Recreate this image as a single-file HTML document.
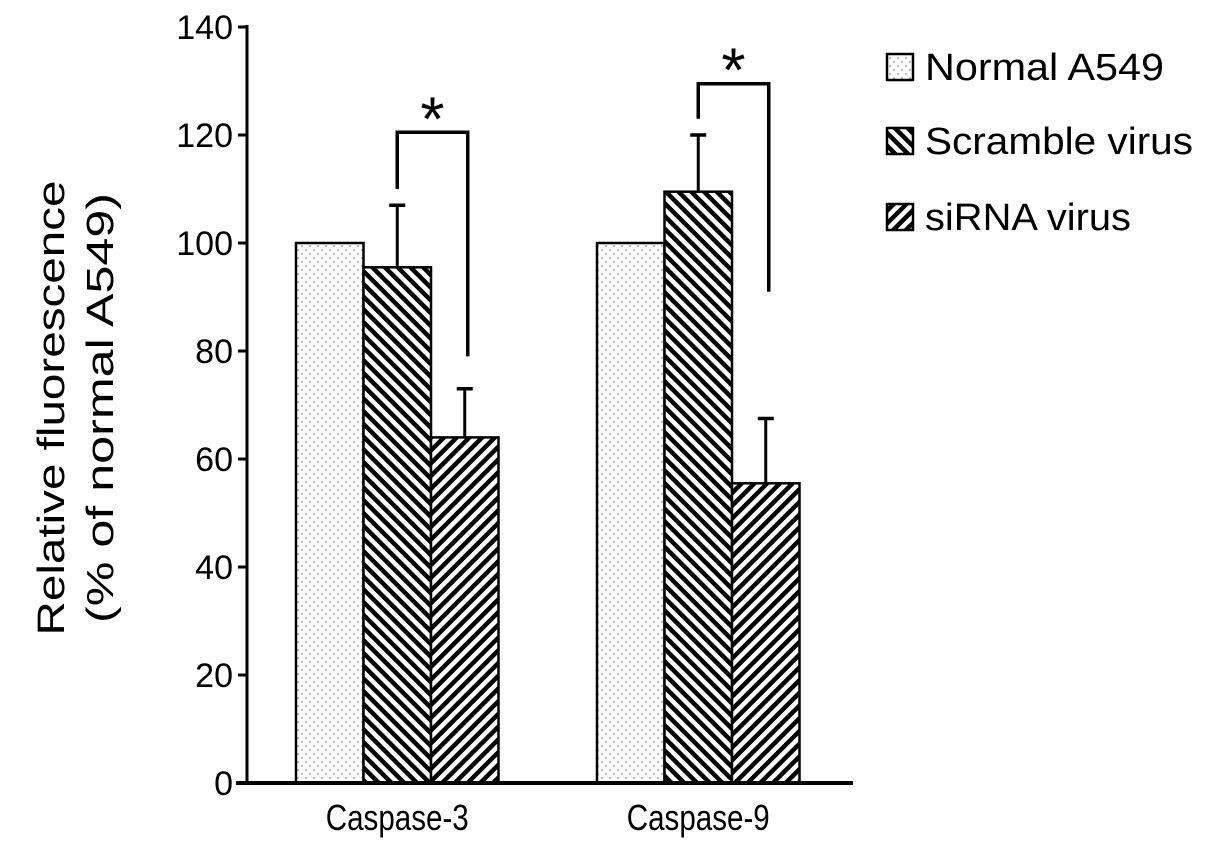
<!DOCTYPE html>
<html><head><meta charset="utf-8"><style>
html,body{margin:0;padding:0;background:#fff;}
svg{display:block;font-family:"Liberation Sans",sans-serif;}
</style></head><body>
<svg id="chart" width="1205" height="849" viewBox="0 0 1205 849">
<defs>
<pattern id="dots" width="8" height="8" patternUnits="userSpaceOnUse"><rect width="8" height="8" fill="#fff"/><circle cx="2" cy="2" r="1" fill="#aaa"/><circle cx="6" cy="6" r="1" fill="#aaa"/></pattern>
<pattern id="back" width="9" height="9" patternUnits="userSpaceOnUse" patternTransform="rotate(-45)"><rect width="9" height="9" fill="#fff"/><rect x="0" y="0" width="4.5" height="9" fill="#000"/></pattern>
<pattern id="fwd" width="9" height="9" patternUnits="userSpaceOnUse" patternTransform="rotate(45)"><rect width="9" height="9" fill="#fff"/><rect x="0" y="0" width="4.5" height="9" fill="#000"/></pattern>
</defs>
<g id="plot"></g>
<g>
<text x="0" y="0" transform="translate(64,408) rotate(-90)" text-anchor="middle" font-size="38" textLength="455" lengthAdjust="spacingAndGlyphs">Relative fluorescence</text>
<text x="0" y="0" transform="translate(113,408) rotate(-90)" text-anchor="middle" font-size="38" textLength="430" lengthAdjust="spacingAndGlyphs">(% of normal A549)</text>
</g>
<g>
<g><rect x="887" y="54" width="26" height="26" fill="url(#dots)" stroke="#000" stroke-width="2.5"/><text x="925" y="80" font-size="38" textLength="239" lengthAdjust="spacingAndGlyphs">Normal A549</text></g>
<g><rect x="887" y="128" width="26" height="26" fill="url(#back)" stroke="#000" stroke-width="2.5"/><text x="925" y="154" font-size="38" textLength="268" lengthAdjust="spacingAndGlyphs">Scramble virus</text></g>
<g><rect x="887" y="204" width="26" height="26" fill="url(#fwd)" stroke="#000" stroke-width="2.5"/><text x="925" y="230" font-size="38" textLength="206" lengthAdjust="spacingAndGlyphs">siRNA virus</text></g>
</g>
</svg>
<script>
const categories = ["Caspase-3", "Caspase-9"];
const normalVals = [100, 100];
const scrambleVals = [95.5, 109.5];
const sirnaVals = [64, 55.5];
const scrambleErr = [11.5, 10.5];
const sirnaErr = [9, 12];
const yTicks = [0, 20, 40, 60, 80, 100, 120, 140];
const bracketTop = [120.5, 129.5];
const bracketLeft = [110, 123];
const bracketRight = [79, 91];

const NS = "http://www.w3.org/2000/svg";
const g = document.getElementById('plot');
const y0 = 783, ppu = 5.4;
const y = v => y0 - v * ppu;
const groupStart = [296, 597], bw = 67.5;
function mk(tag, attrs, parent) {
  const e = document.createElementNS(NS, tag);
  for (const k in attrs) e.setAttribute(k, attrs[k]);
  (parent || g).appendChild(e);
  return e;
}
yTicks.forEach(t => {
  const l = mk('line', {x1: 238, x2: 247, y1: y(t), y2: y(t), stroke: '#000', 'stroke-width': 3});
  
  
  const tx = mk('text', {x: 233, y: y(t) + 12, 'text-anchor': 'end', 'font-size': 34});
  tx.textContent = t;
  
  
});
const series = [[normalVals, 'url(#dots)', null, 'normal'], [scrambleVals, 'url(#back)', scrambleErr, 'scramble'], [sirnaVals, 'url(#fwd)', sirnaErr, 'sirna']];
categories.forEach((c, i) => {
  series.forEach((s, j) => {
    const x = groupStart[i] + j * bw;
    const v = s[0][i];
    if (s[2]) {
      const top = y(v + s[2][i]);
      const e1 = mk('line', {x1: x + bw / 2, x2: x + bw / 2, y1: y(v), y2: top, stroke: '#000', 'stroke-width': 3});
      
      
      const e2 = mk('line', {x1: x + bw / 2 - 8, x2: x + bw / 2 + 8, y1: top, y2: top, stroke: '#000', 'stroke-width': 3.5});
      
      
    }
    const r = mk('rect', {x: x, y: y(v), width: bw, height: y0 - y(v), fill: s[1], stroke: '#000', 'stroke-width': 2.5});
    
    
  });
  const lx = groupStart[i] + bw * 1.5, rx = groupStart[i] + bw * 2.5 + 3;
  const b = mk('polyline', {points: `${lx},${y(bracketLeft[i])} ${lx},${y(bracketTop[i])} ${rx},${y(bracketTop[i])} ${rx},${y(bracketRight[i])}`, fill: 'none', stroke: '#000', 'stroke-width': 3.5});
  
  
  const st = mk('text', {x: (lx + rx) / 2, y: y(bracketTop[i]) + 8, 'text-anchor': 'middle', 'font-size': 62});
  st.textContent = '*';
  
  
  const cl = mk('text', {x: groupStart[i] + bw * 1.5, y: 830, 'text-anchor': 'middle', 'font-size': 36, textLength: 143, lengthAdjust: 'spacingAndGlyphs'});
  cl.textContent = c;
  
  
});
const ya = mk('line', {x1: 247, x2: 247, y1: y(140) - 2, y2: y0, stroke: '#000', 'stroke-width': 3});


const xa = mk('line', {x1: 236, x2: 853, y1: y0, y2: y0, stroke: '#000', 'stroke-width': 4});


</script>
</body></html>
